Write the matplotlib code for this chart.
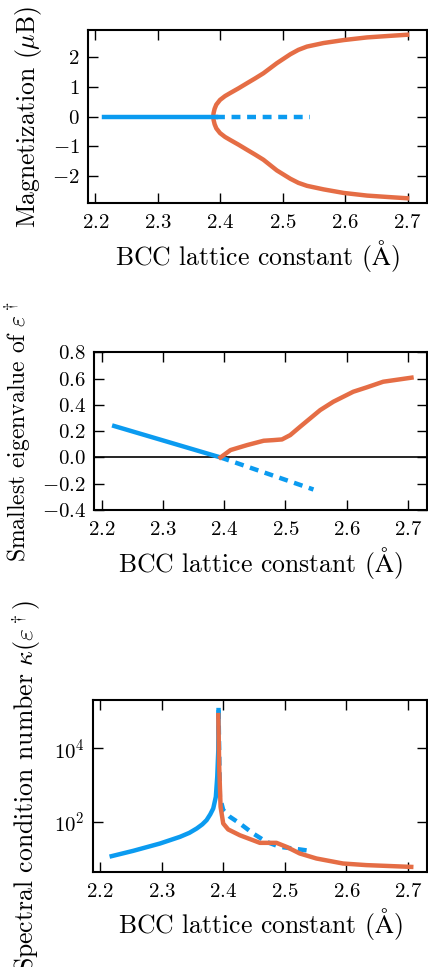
import matplotlib
matplotlib.use("Agg")
import matplotlib.pyplot as plt
from matplotlib.ticker import FuncFormatter, NullLocator

plt.rcParams["font.family"] = "serif"
plt.rcParams["font.serif"] = ["cmr10"]
plt.rcParams["mathtext.fontset"] = "cm"
plt.rcParams["axes.formatter.use_mathtext"] = True

blue = "#0b9bf0"
orange = "#e56d45"

# Magnetization
mag_blue_x = [2.213, 2.393]
mag_blue_y = [0.0, 0.0]
mag_dash_x = [2.393, 2.544]
mag_dash_y = [0.0, 0.0]
mag_up_x = [2.3886, 2.3892, 2.3908, 2.3935, 2.3995, 2.4075, 2.4156, 2.429,
            2.4424, 2.456, 2.469, 2.4905, 2.512, 2.525, 2.5387, 2.5653,
            2.5974, 2.635, 2.67, 2.699]
mag_up_y = [0.0, 0.12, 0.26, 0.40, 0.56, 0.69, 0.79, 0.95, 1.12, 1.29, 1.46,
            1.80, 2.10, 2.25, 2.36, 2.48, 2.58, 2.67, 2.72, 2.76]
mag_lo_y = [0.0, -0.12, -0.26, -0.40, -0.56, -0.69, -0.79, -0.95, -1.12,
            -1.29, -1.46, -1.82, -2.10, -2.24, -2.34, -2.46, -2.58, -2.67,
            -2.72, -2.76]

# Smallest eigenvalue
eig_blue_x = [2.2205, 2.394]
eig_blue_y = [0.239, 0.0]
eig_dash_x = [2.394, 2.5457]
eig_dash_y = [0.0, -0.244]
eig_or_x = [2.394, 2.4103, 2.4374, 2.4644, 2.4807, 2.4943, 2.5078, 2.524,
            2.5566, 2.5782, 2.6107, 2.6325, 2.6595, 2.7057]
eig_or_y = [0.0, 0.056, 0.094, 0.127, 0.132, 0.137, 0.17, 0.234, 0.36, 0.424,
            0.5, 0.533, 0.576, 0.607]

# Condition number
cond_blue_x = [2.2189, 2.254, 2.2973, 2.3297, 2.345, 2.357, 2.366, 2.373,
               2.379, 2.3838, 2.388, 2.3903, 2.392, 2.3924]
cond_blue_y = [11.6, 16.2, 25.6, 38.9, 50, 65.8, 85, 111, 160, 231, 479, 1690,
               9020, 111000]
cond_dash_x = [2.3924, 2.3946, 2.40, 2.4108, 2.427, 2.4486, 2.47, 2.4919,
               2.5135, 2.5405]
cond_dash_y = [111000, 479, 208, 137, 90, 48, 28.5, 20.8, 18.7, 16.2]
cond_or_x = [2.392, 2.3935, 2.3957, 2.40, 2.408, 2.427, 2.4595, 2.4865, 2.5027,
             2.5243, 2.5514, 2.5946, 2.6324, 2.7054]
cond_or_y = [81000, 3160, 257, 90, 62, 43, 26.7, 26.7, 20.8, 13.7, 10.0, 7.3,
             6.6, 5.9]

fig = plt.figure(figsize=(4.28, 9.67), dpi=100)
xl = r"BCC lattice constant ($\mathrm{\AA}$)"
num = FuncFormatter(lambda v, p: "$%g$" % v)
num1 = FuncFormatter(lambda v, p: "$%.1f$" % v)
LW = 3.2
DASH = (0, (2, 1.5))


def style(ax):
    ax.tick_params(direction="in", top=True, right=True, length=7, width=1,
                   labelsize=15, pad=8)
    ax.tick_params(axis="y", pad=6)
    for s in ax.spines.values():
        s.set_linewidth(1.5)
    ax.set_xlim(2.188, 2.731)
    ax.set_xticks([2.2, 2.3, 2.4, 2.5, 2.6, 2.7])
    ax.xaxis.set_major_formatter(num)


ax1 = fig.add_axes([88 / 428, 1 - 203 / 967, 339 / 428, 173 / 967])
ax1.plot(mag_up_x[::-1] + mag_up_x[1:], mag_lo_y[::-1] + mag_up_y[1:],
         color=orange, lw=LW)
ax1.plot(mag_blue_x, mag_blue_y, color=blue, lw=LW)
ax1.plot(mag_dash_x, mag_dash_y, color=blue, lw=LW, ls=DASH)
style(ax1)
ax1.set_ylim(-2.92, 2.92)
ax1.set_yticks([-2, -1, 0, 1, 2])
ax1.yaxis.set_major_formatter(num)
ax1.set_ylabel(r"Magnetization ($\mu$B)", fontsize=18.5, labelpad=6)
ax1.set_xlabel(xl, fontsize=18.5, labelpad=4)

ax2 = fig.add_axes([94.3 / 428, 1 - 510 / 967, 332.7 / 428, 157.7 / 967])
ax2.axhline(0, color="black", lw=1.2)
ax2.plot(eig_blue_x, eig_blue_y, color=blue, lw=LW)
ax2.plot(eig_dash_x, eig_dash_y, color=blue, lw=LW, ls=DASH)
ax2.plot(eig_or_x, eig_or_y, color=orange, lw=LW)
style(ax2)
ax2.set_ylim(-0.4, 0.8)
ax2.set_yticks([-0.4, -0.2, 0.0, 0.2, 0.4, 0.6, 0.8])
ax2.yaxis.set_major_formatter(num1)
ax2.set_ylabel(r"Smallest eigenvalue of $\varepsilon^\dagger$", fontsize=17,
               labelpad=6)
ax2.set_xlabel(xl, fontsize=18.5, labelpad=4)

ax3 = fig.add_axes([92.7 / 428, 1 - 871.7 / 967, 334.3 / 428, 171.7 / 967])
ax3.plot(cond_blue_x, cond_blue_y, color=blue, lw=LW)
ax3.plot(cond_dash_x, cond_dash_y, color=blue, lw=LW, ls=DASH)
ax3.plot(cond_or_x, cond_or_y, color=orange, lw=LW)
ax3.set_yscale("log")
style(ax3)
ax3.set_ylim(10 ** 0.64, 10 ** 5.32)
ax3.set_yticks([1e2, 1e4])
ax3.yaxis.set_minor_locator(NullLocator())
ax3.set_ylabel(r"Spectral condition number $\kappa(\varepsilon^\dagger)$",
               fontsize=18.5, labelpad=8)
ax3.set_xlabel(xl, fontsize=18.5, labelpad=4)

fig.savefig("out.png", dpi=100)
